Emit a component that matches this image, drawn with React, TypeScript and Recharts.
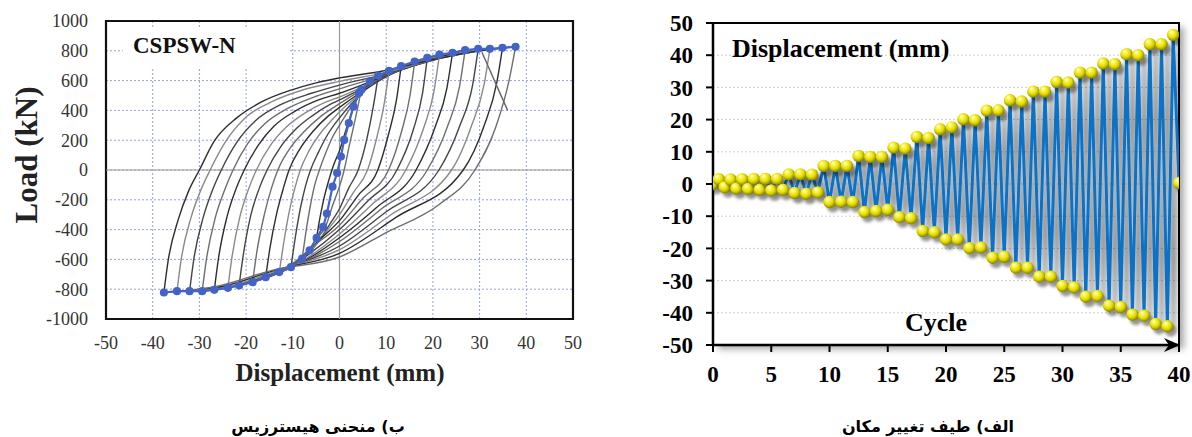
import React from "react";
import { LineChart, Line, XAxis, YAxis, CartesianGrid, ReferenceLine, ReferenceArea, ReferenceDot } from "recharts";

const serif = "'Liberation Serif', 'Times New Roman', serif";

// ---- hysteresis (left) ----
const dispTicks = [-50, -40, -30, -20, -10, 0, 10, 20, 30, 40, 50];
const loadTicks = [-1000, -800, -600, -400, -200, 0, 200, 400, 600, 800, 1000];

type P = [number, number];

// reloading branches (from negative peak up to positive peak), x ascending
const upperBranches: P[][] = [
  [[-4.9, -456], [-4.3, -340], [-3.4, -200], [-2.3, -70], [-1.3, 30], [0, 130], [1.5, 280], [3, 420], [4.7, 539]],
  [[-8, -595], [-7.3, -440], [-6.3, -250], [-5.3, -100], [-4.3, 0], [-3, 110], [-1.5, 220], [0, 300], [2, 400], [5, 530], [8.3, 634]],
  [[-10.4, -652], [-9.6, -480], [-8.4, -260], [-7.3, -110], [-6.2, 0], [-4.5, 120], [-2.5, 240], [0, 350], [3, 460], [7, 580], [10.6, 665]],
  [[-12.9, -685], [-12, -500], [-10.7, -270], [-9.5, -115], [-8.4, 0], [-6.5, 130], [-4, 250], [-1.5, 340], [0, 390], [4, 500], [9, 615], [13.2, 697]],
  [[-15.8, -719], [-14.9, -525], [-13.4, -285], [-12, -120], [-10.8, 0], [-8.5, 140], [-5.5, 265], [-2.5, 360], [0, 420], [5, 530], [11, 645], [16.1, 728]],
  [[-18.6, -753], [-17.7, -550], [-16.1, -300], [-14.6, -125], [-13.2, 0], [-10.5, 150], [-7.5, 260], [-4, 360], [0, 445], [6, 560], [12, 660], [18.8, 753]],
  [[-21.5, -775], [-20.6, -570], [-19, -305], [-17.2, -125], [-15.5, 0], [-12.5, 160], [-9.5, 270], [-6, 360], [-2, 440], [0, 470], [6, 565], [13, 670], [21.4, 775]],
  [[-23.9, -791], [-23, -580], [-21.3, -310], [-19.5, -130], [-17.8, 0], [-14.8, 165], [-11.5, 285], [-7.5, 380], [-3, 455], [0, 490], [7, 590], [15, 700], [24.2, 787]],
  [[-26.8, -804], [-25.9, -590], [-24.1, -315], [-22.2, -130], [-20.4, 0], [-17.3, 170], [-14, 295], [-9.5, 395], [-4.5, 470], [0, 515], [8, 610], [17, 715], [26.9, 804]],
  [[-29.4, -813], [-28.5, -600], [-26.6, -320], [-24.6, -135], [-22.8, 0], [-19.6, 180], [-16, 310], [-11, 415], [-5, 495], [0, 545], [9, 630], [19, 730], [29.7, 813]],
  [[-32.1, -813], [-31.2, -600], [-29.2, -320], [-27.2, -135], [-25.3, 0], [-22, 185], [-18, 330], [-12.5, 440], [-6, 515], [0, 570], [10, 645], [21, 745], [32.2, 813]],
  [[-34.8, -813], [-33.9, -600], [-31.8, -320], [-29.7, -135], [-27.7, 0], [-24.4, 190], [-20, 355], [-14, 465], [-7, 545], [0, 595], [10, 655], [22, 755], [34.9, 820]],
  [[-37.6, -822], [-36.7, -610], [-34.5, -330], [-32.3, -140], [-30, 0], [-26.8, 195], [-22, 350], [-16.5, 460], [-10, 540], [-5, 585], [0, 618], [9, 663], [20, 740], [30, 800], [37.7, 827]],
];

// unloading branches (from positive peak down to negative peak), x ascending
const lowerBranches: P[][] = [
  [[-4.9, -456], [-3, -380], [-1.5, -240], [0, -110], [1, 0], [2, 150], [3.5, 360], [4.7, 539]],
  [[-8, -595], [-5, -500], [-2, -360], [0, -260], [2, -120], [4, 0], [5.8, 200], [7.2, 420], [8.3, 634]],
  [[-10.4, -652], [-7, -570], [-3, -420], [0, -300], [3, -150], [6, 0], [8, 220], [9.6, 450], [10.6, 665]],
  [[-12.9, -685], [-9, -610], [-4, -460], [0, -340], [4, -170], [8.2, 0], [10.5, 240], [12.2, 470], [13.2, 697]],
  [[-15.8, -719], [-11, -650], [-6, -520], [0, -370], [5, -190], [10.5, 0], [13.3, 260], [15.1, 500], [16.1, 728]],
  [[-18.6, -753], [-13, -690], [-7, -575], [0, -400], [6, -210], [12.3, 0], [15.8, 270], [17.8, 520], [18.8, 753]],
  [[-21.5, -775], [-15, -715], [-8, -610], [0, -430], [7, -230], [14.2, 0], [18, 280], [20.3, 540], [21.4, 775]],
  [[-23.9, -791], [-17, -735], [-9, -635], [0, -455], [8, -250], [16.4, 0], [20.5, 290], [23, 550], [24.2, 787]],
  [[-26.8, -804], [-19, -750], [-10, -650], [0, -480], [9, -260], [18.8, 0], [23.1, 290], [25.7, 560], [26.9, 804]],
  [[-29.4, -813], [-21, -765], [-11, -655], [0, -510], [10, -280], [21.3, 0], [25.8, 300], [28.5, 570], [29.7, 813]],
  [[-32.1, -813], [-23, -775], [-12, -660], [0, -535], [11, -300], [24, 0], [28.3, 300], [31, 580], [32.2, 813]],
  [[-34.8, -813], [-25, -780], [-13, -665], [0, -560], [12, -320], [26.5, 0], [31, 300], [33.7, 590], [34.9, 820]],
  [[-37.6, -822], [-27, -785], [-14, -670], [0, -584], [10, -420], [21.4, -230], [29, 0], [33.6, 300], [36.3, 600], [37.7, 827]],
];

const finalUnload: P[] = [[30.5, 790], [36, 400]];

const envelope: P[] = [
  [-37.6, -822], [-34.8, -813], [-32.1, -813], [-29.4, -813], [-26.8, -804], [-23.9, -791],
  [-21.5, -775], [-18.6, -753], [-15.8, -719], [-12.9, -685], [-10.4, -652], [-8.0, -595],
  [-6.4, -539], [-4.9, -456], [-3.5, -382], [-2.7, -292], [-1.5, -112], [-0.5, -20],
  [0.3, 90], [1, 202], [2, 315], [3, 427], [4.2, 517], [4.7, 539], [6.5, 595], [8.3, 634],
  [10.6, 665], [13.2, 697], [16.1, 728], [18.8, 753], [21.4, 775], [24.2, 787], [26.9, 804],
  [29.7, 813], [32.2, 813], [34.9, 820], [37.7, 827],
];

// ---- displacement history (right) ----
const cycleTicks = [0, 5, 10, 15, 20, 25, 30, 35, 40];
const histTicks = [-50, -40, -30, -20, -10, 0, 10, 20, 30, 40, 50];
// positive peaks at cycles 0.5 ... 39.5
const positivePeaks = [
  1.5, 1.4, 1.5, 1.6, 1.6, 1.6, 3.0, 3.0, 2.9, 5.6, 5.6, 5.6, 8.7, 8.4, 8.4,
  11.3, 11.0, 14.6, 14.3, 17.0, 17.6, 20.1, 19.8, 22.8, 22.9, 26.0, 25.6, 28.7, 28.7,
  31.7, 31.5, 34.6, 34.6, 37.4, 37.2, 40.3, 40.0, 43.4, 43.4, 46.3,
];
// negative peaks at cycles 1 ... 39
const negativePeaks = [
  -1.0, -1.4, -1.5, -1.8, -2.0, -1.8, -2.8, -3.0, -2.6, -5.6, -5.5, -5.6, -8.7, -8.4, -8.0,
  -10.3, -10.6, -14.6, -15.0, -17.2, -17.2, -19.9, -19.7, -22.9, -22.6, -26.0, -26.0,
  -28.8, -28.8, -31.7, -32.1, -35.0, -34.8, -37.8, -38.2, -40.6, -40.9, -43.5, -44.2,
];
const startDisp = 0;
const endDisp = 0.3;

const toXY = (pts: P[]) => pts.map(([x, y]) => ({ x, y }));

const history: { x: number; y: number }[] = [{ x: 0, y: startDisp }];
positivePeaks.forEach((v, i) => {
  history.push({ x: i + 0.5, y: v });
  if (i < negativePeaks.length) history.push({ x: i + 1, y: negativePeaks[i] });
});
history.push({ x: 40, y: endDisp });

const Ball = (props: any) => {
  const { cx, cy, index } = props;
  if (cx == null || cy == null) return <g key={`b${index}`} />;
  return (
    <g key={`b${index}`}>
      <circle cx={cx + 3.5} cy={cy + 4.5} r={6} fill="#000" opacity={0.4} filter="url(#blur)" />
      <circle cx={cx} cy={cy} r={6.2} fill="url(#ball)" />
    </g>
  );
};

const Arrow = (props: any) => {
  const { cx, cy } = props;
  return <path d={`M${cx + 1},${cy} L${cx - 15},${cy - 7} L${cx - 10},${cy} L${cx - 15},${cy + 7} Z`} fill="#000" />;
};

const grays = ["#2e2e2e", "#6e6e6e", "#444", "#8a8a8a"];

function Hysteresis() {
  return (
    <LineChart width={600} height={400} margin={{ top: 21, right: 27, bottom: 51, left: 0 }}>
      <CartesianGrid stroke="#93a3dc" strokeDasharray="2 2" />
      <XAxis
        type="number"
        dataKey="x"
        domain={[-50, 50]}
        ticks={dispTicks}
        allowDataOverflow
        axisLine={false}
        tickLine={false}
        height={30}
        tickMargin={11}
        tick={{ fontSize: 18, fill: "#333", fontFamily: serif }}
      />
      <YAxis
        type="number"
        domain={[-1000, 1000]}
        ticks={loadTicks}
        allowDataOverflow
        axisLine={false}
        tickLine={false}
        width={106}
        tickMargin={12}
        tick={{ fontSize: 18, fill: "#333", fontFamily: serif }}
      />
      <ReferenceLine x={0} stroke="#999" strokeWidth={1.2} />
      <ReferenceLine y={0} stroke="#999" strokeWidth={1.2} />
      {upperBranches.map((b, i) => (
        <Line key={`u${i}`} data={toXY(b)} dataKey="y" type="monotone" stroke={grays[i % 4]} strokeWidth={1.4} dot={false} isAnimationActive={false} />
      ))}
      {lowerBranches.map((b, i) => (
        <Line key={`l${i}`} data={toXY(b)} dataKey="y" type="monotone" stroke={grays[(i + 1) % 4]} strokeWidth={1.4} dot={false} isAnimationActive={false} />
      ))}
      <Line data={toXY(finalUnload)} dataKey="y" type="linear" stroke="#666" strokeWidth={1.4} dot={false} isAnimationActive={false} />
      <Line
        data={toXY(envelope)}
        dataKey="y"
        type="linear"
        stroke="#4364c6"
        strokeWidth={2.2}
        dot={{ r: 3, fill: "#4364c6", stroke: "#4364c6" }}
        isAnimationActive={false}
      />
      <ReferenceArea x1={-50} x2={50} y1={-1000} y2={1000} fill="none" stroke="#111" strokeWidth={2.2} ifOverflow="visible" />
    </LineChart>
  );
}

function History() {
  return (
    <LineChart width={552} height={400} margin={{ top: 23, right: 13, bottom: 25, left: 0 }}>
      <defs>
        <radialGradient id="ball" cx="45%" cy="42%" r="62%" fx="33%" fy="26%">
          <stop offset="0%" stopColor="#ffffee" />
          <stop offset="22%" stopColor="#fcf85a" />
          <stop offset="60%" stopColor="#e2da00" />
          <stop offset="100%" stopColor="#747000" />
        </radialGradient>
        <filter id="blur" x="-60%" y="-60%" width="220%" height="220%">
          <feGaussianBlur stdDeviation="1.8" />
        </filter>
        <filter id="lshadow" x="-5%" y="-5%" width="115%" height="115%">
          <feGaussianBlur in="SourceAlpha" stdDeviation="3" />
          <feOffset dx="6" dy="3" result="ob" />
          <feComponentTransfer>
            <feFuncA type="linear" slope="0.6" />
          </feComponentTransfer>
          <feMerge>
            <feMergeNode />
            <feMergeNode in="SourceGraphic" />
          </feMerge>
        </filter>
      </defs>
      <CartesianGrid stroke="#cfcfcf" strokeDasharray="2 2" vertical={false} />
      <ReferenceArea x1={0} x2={40} y1={-50} y2={50} fill="none" stroke="#000" strokeWidth={2} ifOverflow="visible" />
      <XAxis
        type="number"
        dataKey="x"
        domain={[0, 40]}
        ticks={cycleTicks}
        allowDataOverflow
        axisLine={{ stroke: "#000", strokeWidth: 2.5 }}
        tickLine={{ stroke: "#000", strokeWidth: 2 }}
        tickSize={7}
        height={30}
        tickMargin={14}
        tick={{ fontSize: 23, fontWeight: 700, fill: "#000", fontFamily: serif }}
      />
      <YAxis
        type="number"
        domain={[-50, 50]}
        ticks={histTicks}
        allowDataOverflow
        axisLine={{ stroke: "#000", strokeWidth: 2.5 }}
        tickLine={{ stroke: "#000", strokeWidth: 2 }}
        tickSize={7}
        width={73}
        tickMargin={13}
        tick={{ fontSize: 23, fontWeight: 700, fill: "#000", fontFamily: serif }}
      />
      <YAxis
        yAxisId="inner"
        type="number"
        domain={[-50, 50]}
        ticks={histTicks}
        mirror
        axisLine={false}
        tickLine={{ stroke: "#000", strokeWidth: 2 }}
        tickSize={7}
        tick={false}
      />
      <Line
        data={history}
        dataKey="y"
        type="linear"
        stroke="#0a72c6"
        strokeWidth={3}
        filter="url(#lshadow)"
        dot={Ball}
        isAnimationActive={false}
      />
      <ReferenceDot x={40} y={-50} r={0} ifOverflow="visible" shape={Arrow} />
    </LineChart>
  );
}

const abs = (left: number, top: number): React.CSSProperties => ({ position: "absolute", left, top, whiteSpace: "nowrap" });

export default function App() {
  return (
    <div style={{ position: "fixed", left: 0, top: 0, width: 1192, height: 437, background: "#fff", overflow: "hidden" }}>
      <style>{`.hist path.recharts-line-curve, .hist .recharts-line path.recharts-curve { filter: url(#lshadow); }`}</style>
      <div style={abs(0, 0)}>
        <Hysteresis />
      </div>
      <div style={{ ...abs(123, 28), width: 167, height: 39, background: "#fff" }} />
      <div style={{ ...abs(133, 34), fontFamily: serif, fontWeight: 700, fontSize: 23, lineHeight: 1, color: "#111" }}>CSPSW-N</div>
      <div
        style={{
          ...abs(26, 155),
          transform: "translate(-50%, -50%) rotate(-90deg)",
          fontFamily: serif,
          fontWeight: 700,
          fontSize: 31,
          lineHeight: 1,
          color: "#222",
        }}
      >
        Load (kN)
      </div>
      <div style={{ ...abs(340, 372), transform: "translate(-50%, -50%)", fontFamily: serif, fontWeight: 700, fontSize: 25, lineHeight: 1, color: "#222" }}>
        Displacement (mm)
      </div>

      <div style={{ ...abs(713, 23), width: 466, height: 322, background: "#fff", boxShadow: "5px 4px 7px rgba(0,0,0,0.35)" }} />
      <div className="hist" style={abs(640, 0)}>
        <History />
      </div>
      <div style={{ ...abs(732, 36), fontFamily: serif, fontWeight: 700, fontSize: 26, lineHeight: 1, color: "#000" }}>Displacement (mm)</div>
      <div style={{ ...abs(936, 323), transform: "translate(-50%, -50%)", fontFamily: serif, fontWeight: 700, fontSize: 26, lineHeight: 1, color: "#000" }}>
        Cycle
      </div>

      <div dir="rtl" style={{ ...abs(318, 427), transform: "translate(-50%, -50%)", fontFamily: "'DejaVu Sans', sans-serif", fontWeight: 700, fontSize: 16, lineHeight: 1, color: "#000" }}>
        ب) منحنی هیسترزیس
      </div>
      <div dir="rtl" style={{ ...abs(928, 427), transform: "translate(-50%, -50%)", fontFamily: "'DejaVu Sans', sans-serif", fontWeight: 700, fontSize: 16, lineHeight: 1, color: "#000" }}>
        الف) طیف تغییر مکان
      </div>
    </div>
  );
}
